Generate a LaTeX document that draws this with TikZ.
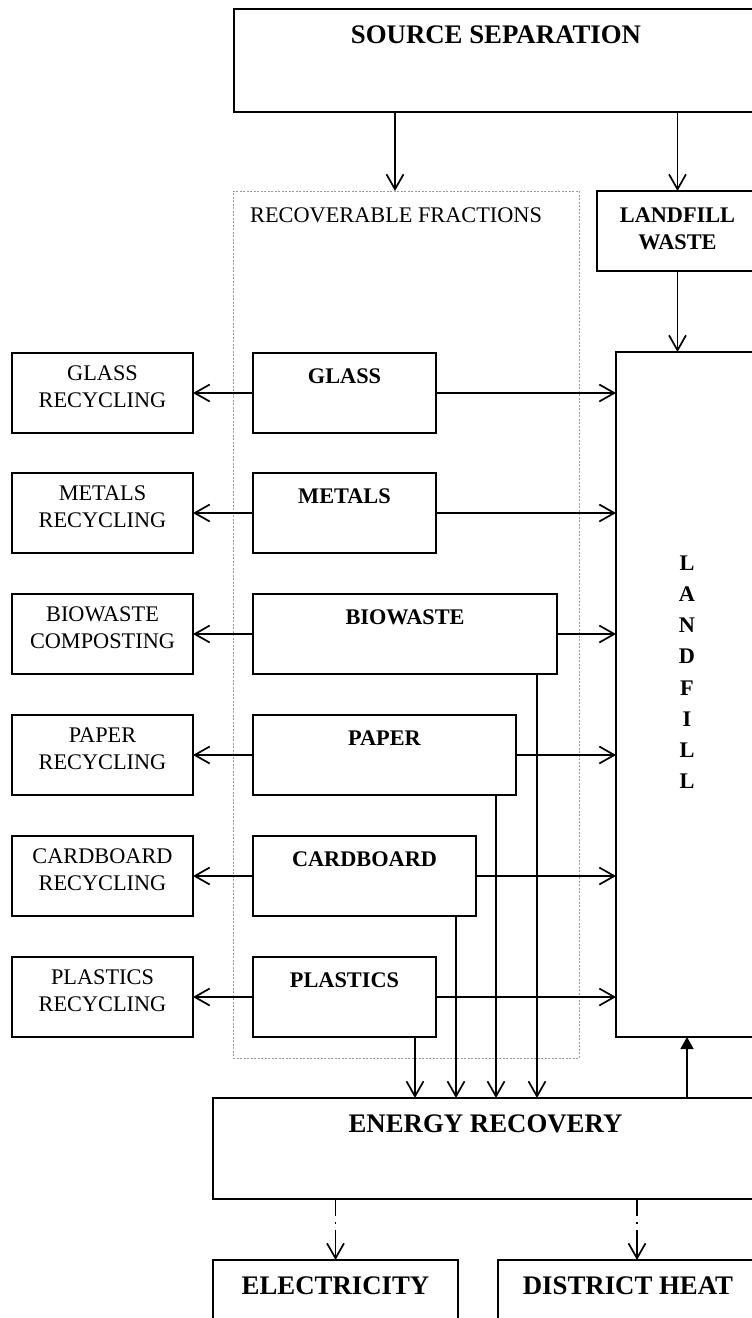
\documentclass[tikz,border=0pt]{standalone}
\usepackage{fontspec}
\setmainfont{Liberation Serif}
\usetikzlibrary{arrows.meta,positioning}
\newcommand{\fsmid}{\fontsize{22.3}{27}\selectfont}
\newcommand{\fsbig}{\fontsize{26.8}{31}\selectfont\bfseries}
\tikzset{
  sfbox/.style={rectangle, draw=black, line width=1.3pt, inner sep=0pt, outer sep=0pt},
  midbox/.style={sfbox, anchor=north west, minimum height=80pt},
  sidebox/.style={sfbox, minimum width=181pt, minimum height=80pt},
  sidetext/.style={anchor=north, inner sep=0pt, align=center, yshift=-12.7pt, font=\fsmid},
  midtext/.style={anchor=north, inner sep=0pt, yshift=-15.2pt, font=\fsmid\bfseries},
  bigtext/.style={anchor=north, inner sep=0pt, align=center, font=\fsbig},
  groupbox/.style={rectangle, draw=gray!80, line width=0.6pt, dash pattern=on 2pt off 1.5pt,
    inner sep=0pt, outer sep=0pt, anchor=north west},
  sfarrow/.style={-{Straight Barb[length=15pt,width=17pt]}, line width=1.7pt},
  ddarrow/.style={sfarrow, dash pattern=on 17pt off 6pt on 1.5pt off 6pt on 40pt},
  uparrow/.style={-{Triangle[length=12pt,width=13pt]}, line width=1.7pt},
}

\begin{document}
\begin{tikzpicture}[x=1pt, y=-1pt]
  \useasboundingbox (0,0) rectangle (752,1318);
  \clip (0,0) rectangle (752,1318);

  % group of recoverable fractions
  \node (rf) [groupbox, minimum width=346pt, minimum height=867pt,
    label={[anchor=north west, inner sep=0pt, xshift=17pt, yshift=-17pt, font=\fsmid]north west:RECOVERABLE FRACTIONS}] at (233,191) {};

  \node (ss) [midbox, minimum width=524pt, minimum height=103pt,
    label={[bigtext, yshift=-17pt]north:SOURCE SEPARATION}] at (234,9) {};
  \node (lw) [midbox, minimum width=161pt,
    label={[bigtext, font=\fsmid\bfseries, yshift=-16.7pt]north:{LANDFILL\\WASTE}}] at (597,191) {};
  \node (landfill) [midbox, minimum width=142pt, minimum height=685pt,
    label={[bigtext, font=\fontsize{22.3}{31.2}\selectfont\bfseries, yshift=-203.5pt]north:{L\\A\\N\\D\\F\\I\\L\\L}}] at (616,352) {};

  % fractions
  \node (glass) [midbox, minimum width=183pt, label={[midtext]north:GLASS}] at (253,353) {};
  \node (metals) [midbox, minimum width=183pt, label={[midtext]north:METALS}] at (253,473) {};
  \node (bio) [midbox, minimum width=304pt, label={[midtext]north:BIOWASTE}] at (253,594) {};
  \node (paper) [midbox, minimum width=263pt, label={[midtext]north:PAPER}] at (253,715) {};
  \node (card) [midbox, minimum width=223pt, label={[midtext]north:CARDBOARD}] at (253,836) {};
  \node (plast) [midbox, minimum width=183pt, label={[midtext]north:PLASTICS}] at (253,957) {};

  % recycling
  \node (glassrec) [sidebox, left=60pt of glass, label={[sidetext]north:{GLASS\\RECYCLING}}] {};
  \node (metalsrec) [sidebox, left=60pt of metals, label={[sidetext]north:{METALS\\RECYCLING}}] {};
  \node (biorec) [sidebox, left=60pt of bio, label={[sidetext]north:{BIOWASTE\\COMPOSTING}}] {};
  \node (paperrec) [sidebox, left=60pt of paper, label={[sidetext]north:{PAPER\\RECYCLING}}] {};
  \node (cardrec) [sidebox, left=60pt of card, label={[sidetext]north:{CARDBOARD\\RECYCLING}}] {};
  \node (plastrec) [sidebox, left=60pt of plast, label={[sidetext]north:{PLASTICS\\RECYCLING}}] {};

  \node (energy) [midbox, minimum width=545pt, minimum height=101pt,
    label={[bigtext, yshift=-16.5pt]north:ENERGY RECOVERY}] at (213,1098) {};
  \node (elec) [midbox, minimum width=245pt, minimum height=100pt,
    label={[bigtext, yshift=-16.5pt]north:ELECTRICITY}] at (213,1260) {};
  \node (dh) [midbox, minimum width=260pt, minimum height=100pt,
    label={[bigtext, yshift=-16.5pt]north:DISTRICT HEAT}] at (498,1260) {};

  % connectors
  \coordinate (ssout) at ([xshift=161pt]ss.south west);
  \draw[sfarrow] (ssout) -- (ssout |- rf.north);
  \draw[sfarrow] (ss.south -| lw.north) -- (lw.north);
  \draw[sfarrow] (lw.south) -- (lw.south |- landfill.north);

  \draw[sfarrow] (glass.west) -- (glassrec.east);
  \draw[sfarrow] (metals.west) -- (metalsrec.east);
  \draw[sfarrow] (bio.west) -- (biorec.east);
  \draw[sfarrow] (paper.west) -- (paperrec.east);
  \draw[sfarrow] (card.west) -- (cardrec.east);
  \draw[sfarrow] (plast.west) -- (plastrec.east);

  \draw[sfarrow] (glass.east) -- (glass.east -| landfill.west);
  \draw[sfarrow] (metals.east) -- (metals.east -| landfill.west);
  \draw[sfarrow] (bio.east) -- (bio.east -| landfill.west);
  \draw[sfarrow] (paper.east) -- (paper.east -| landfill.west);
  \draw[sfarrow] (card.east) -- (card.east -| landfill.west);
  \draw[sfarrow] (plast.east) -- (plast.east -| landfill.west);

  \coordinate (bioout) at ([xshift=-20pt]bio.south east);
  \coordinate (paperout) at ([xshift=-20pt]paper.south east);
  \coordinate (cardout) at ([xshift=-20pt]card.south east);
  \coordinate (plastout) at ([xshift=-21pt]plast.south east);
  \draw[sfarrow] (bioout) -- (bioout |- energy.north);
  \draw[sfarrow] (paperout) -- (paperout |- energy.north);
  \draw[sfarrow] (cardout) -- (cardout |- energy.north);
  \draw[sfarrow] (plastout) -- (plastout |- energy.north);

  \draw[uparrow] (energy.north -| landfill.south) -- (landfill.south);

  \coordinate (dhin) at ([xshift=139pt]dh.north west);
  \draw[ddarrow] (energy.south -| elec.north) -- (elec.north);
  \draw[ddarrow] (dhin |- energy.south) -- (dhin);
\end{tikzpicture}
\end{document}
